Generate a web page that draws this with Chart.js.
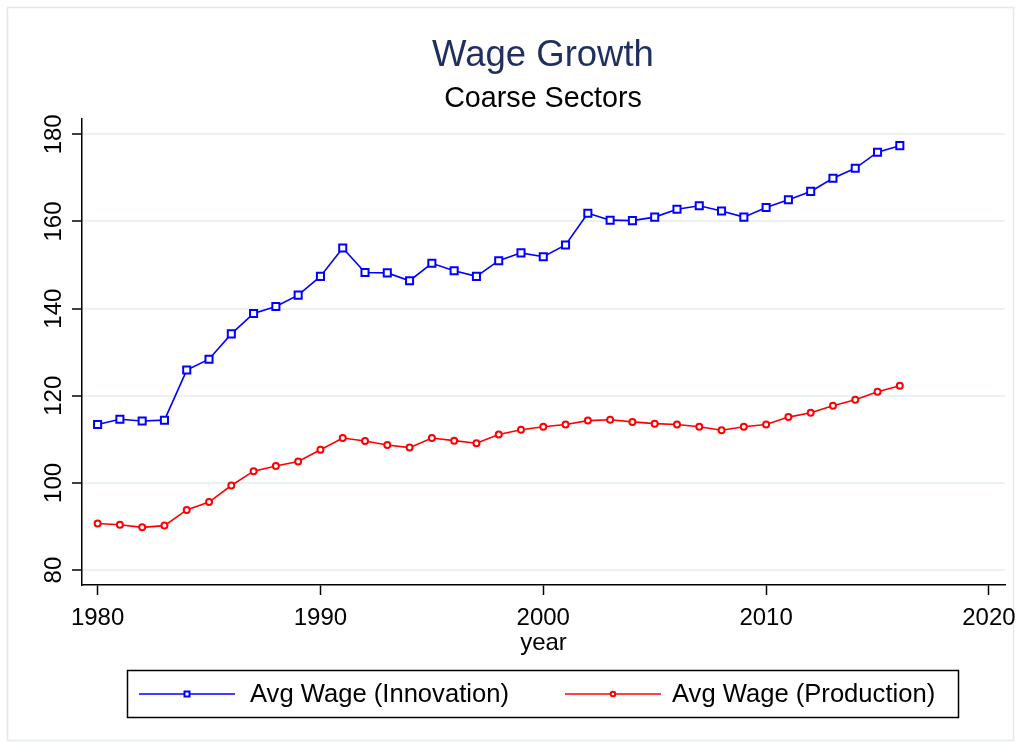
<!DOCTYPE html>
<html>
<head>
<meta charset="utf-8">
<script src="https://cdn.jsdelivr.net/npm/chart.js@4.4.1/dist/chart.umd.min.js"></script>
<style>
  html, body { margin: 0; padding: 0; background: #ffffff; }
  canvas { display: block; }
</style>
</head>
<body>
<canvas id="c" width="1021" height="748"></canvas>
<script>
const years = [1980,1981,1982,1983,1984,1985,1986,1987,1988,1989,1990,1991,1992,1993,1994,1995,1996,1997,1998,1999,2000,2001,2002,2003,2004,2005,2006,2007,2008,2009,2010,2011,2012,2013,2014,2015,2016];
const innovationWage = [113.4,114.6,114.2,114.4,125.9,128.4,134.2,138.9,140.5,143.1,147.4,153.9,148.3,148.2,146.4,150.4,148.7,147.4,151.0,152.8,151.9,154.6,161.9,160.3,160.2,161.0,162.8,163.6,162.4,161.0,163.2,165.0,166.9,169.9,172.2,175.9,177.4];
const productionWage = [90.7,90.4,89.8,90.2,93.8,95.6,99.4,102.7,103.9,104.9,107.6,110.3,109.6,108.7,108.1,110.3,109.7,109.1,111.1,112.2,112.9,113.4,114.3,114.5,114.0,113.6,113.4,112.9,112.1,112.9,113.4,115.1,116.1,117.7,119.1,120.9,122.3];
const xTicks = [1980,1990,2000,2010,2020];
const yTicks = [80,100,120,140,160,180];
const seriesLabels = ['Avg Wage (Innovation)','Avg Wage (Production)'];

const FONT = '"Liberation Sans", Arial, sans-serif';

const frame = {
  id: 'frame',
  afterLayout(chart) {
    // let the narrow y axis use the full left margin for its labels
    const s = chart.scales.y;
    s.left = 0;
    s.width = s.right;
  },
  beforeDraw(chart) {
    const ctx = chart.ctx;
    ctx.save();
    ctx.fillStyle = '#ffffff';
    ctx.fillRect(0, 0, chart.width, chart.height);
    ctx.strokeStyle = '#e1eaec';
    ctx.lineWidth = 1.5;
    ctx.strokeRect(7.5, 7.5, 1006, 733);
    ctx.restore();
  }
};

const boxLegend = {
  id: 'boxLegend',
  afterDraw(chart) {
    const ctx = chart.ctx;
    ctx.save();
    ctx.strokeStyle = '#000';
    ctx.lineWidth = 1.5;
    ctx.strokeRect(127.5, 670.5, 831, 47);
    const cy = 694;
    const entries = [
      {x0: 139, x1: 235, tx: 250},
      {x0: 565, x1: 661, tx: 672}
    ];
    chart.data.datasets.forEach((ds, i) => {
      const e = entries[i];
      ctx.strokeStyle = ds.borderColor;
      ctx.lineWidth = 1.6;
      ctx.beginPath();
      ctx.moveTo(e.x0, cy);
      ctx.lineTo(e.x1, cy);
      ctx.stroke();
      const mx = (e.x0 + e.x1) / 2;
      ctx.fillStyle = '#fff';
      ctx.lineWidth = 2;
      ctx.beginPath();
      if (ds.pointStyle === 'rect') {
        ctx.rect(mx - 2.5, cy - 2.5, 5, 5);
      } else {
        ctx.arc(mx, cy, 2.3, 0, Math.PI * 2);
      }
      ctx.fill();
      ctx.stroke();
      ctx.fillStyle = '#000';
      ctx.font = '25.6px ' + FONT;
      ctx.textAlign = 'left';
      ctx.textBaseline = 'middle';
      ctx.fillText(ds.label, e.tx, cy + 1);
    });
    ctx.restore();
  }
};

new Chart(document.getElementById('c'), {
  type: 'line',
  data: {
    datasets: [
      {
        label: seriesLabels[0],
        data: years.map((yr, i) => ({x: yr, y: innovationWage[i]})),
        borderColor: '#0000ff',
        backgroundColor: '#ffffff',
        borderWidth: 1.6,
        pointStyle: 'rect',
        pointRadius: 5,
        pointBorderWidth: 2,
        pointBorderColor: '#0000ff',
        pointBackgroundColor: '#ffffff',
        tension: 0
      },
      {
        label: seriesLabels[1],
        data: years.map((yr, i) => ({x: yr, y: productionWage[i]})),
        borderColor: '#ff0000',
        backgroundColor: '#ffffff',
        borderWidth: 1.6,
        pointStyle: 'circle',
        pointRadius: 3,
        pointBorderWidth: 2,
        pointBorderColor: '#ff0000',
        pointBackgroundColor: '#ffffff',
        tension: 0
      }
    ]
  },
  options: {
    responsive: false,
    animation: false,
    devicePixelRatio: 1,
    layout: { padding: { left: 81, right: 16, top: 0, bottom: 0 } },
    plugins: {
      legend: { display: false },
      tooltip: { enabled: false },
      title: {
        display: true,
        text: 'Wage Growth',
        color: '#1f2f5f',
        font: { family: FONT, size: 36.5, weight: 'normal' },
        padding: { top: 34, bottom: 0 }
      },
      subtitle: {
        display: true,
        text: 'Coarse Sectors',
        color: '#000',
        font: { family: FONT, size: 28.7, weight: 'normal' },
        padding: { top: 4, bottom: 2.4 }
      }
    },
    scales: {
      x: {
        type: 'linear',
        min: 1979.30,
        max: 2020.72,
        afterBuildTicks: s => { s.ticks = xTicks.map(v => ({value: v})); },
        afterFit: s => { s.height = 163; s.paddingLeft = 0; s.paddingRight = 0; },
        grid: {
          drawOnChartArea: false,
          drawTicks: true,
          tickLength: 10,
          tickColor: '#000',
          tickWidth: 1.5
        },
        border: { display: true, color: '#000', width: 1.5 },
        ticks: {
          color: '#000',
          font: { family: FONT, size: 24 },
          padding: 9,
          maxRotation: 0,
          minRotation: 0,
          callback: v => String(v)
        },
        title: {
          display: true,
          text: 'year',
          color: '#000',
          font: { family: FONT, size: 24 },
          padding: { top: 0, bottom: 90 }
        }
      },
      y: {
        type: 'linear',
        min: 76.57,
        max: 183.6,
        afterBuildTicks: s => { s.ticks = yTicks.map(v => ({value: v})); },
        afterFit: s => { s.width = 1; s.paddingTop = 0; s.paddingBottom = 0; },
        grid: {
          drawOnChartArea: true,
          color: 'rgb(234,242,243)',
          lineWidth: 2,
          drawTicks: true,
          tickLength: 10,
          tickColor: '#000',
          tickWidth: 1.5
        },
        border: { display: true, color: '#000', width: 1.5 },
        ticks: {
          color: '#000',
          font: { family: FONT, size: 24 },
          minRotation: 90,
          maxRotation: 90,
          crossAlign: 'center',
          padding: -2,
          callback: v => String(v)
        }
      }
    }
  },
  plugins: [frame, boxLegend]
});
</script>
</body>
</html>
